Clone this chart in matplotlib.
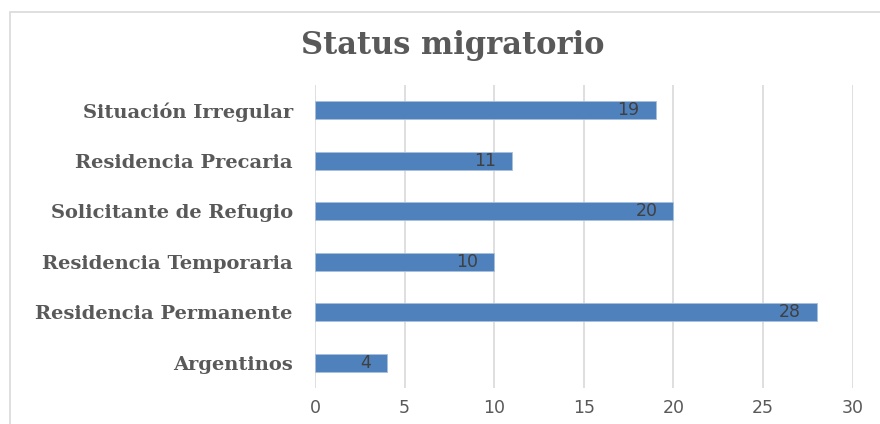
import matplotlib.pyplot as plt
from matplotlib.patches import Rectangle

# data (top to bottom as shown in the chart)
categories = ['Situación Irregular', 'Residencia Precaria', 'Solicitante de Refugio',
              'Residencia Temporaria', 'Residencia Permanente', 'Argentinos']
values = [19, 11, 20, 10, 28, 4]
xticks = [0, 5, 10, 15, 20, 25, 30]

bar_color = '#4f81bd'
grid_color = '#d9d9d9'

fig = plt.figure(figsize=(8.8, 4.24), dpi=100)
ax = fig.add_axes([0.358, 0.085, 0.611, 0.7145])

ypos = list(range(len(categories)))[::-1]
ax.barh(ypos, values, height=0.36, color=bar_color, edgecolor='#a7c0de', linewidth=0.6, zorder=3)

for y, v in zip(ypos, values):
    ax.text(v - 0.9, y, str(v), ha='right', va='center', fontsize=12.5,
            color='#404040', family='DejaVu Sans', zorder=4)

ax.set_xlim(0, 30)
ax.set_ylim(-0.5, 5.5)
ax.set_xticks(xticks)
ax.set_xticklabels([str(t) for t in xticks], fontsize=12.5, color='#595959')
ax.set_yticks(ypos)
ax.set_yticklabels(categories, fontsize=14, fontweight='bold', family='DejaVu Serif',
                   color='#595959')
ax.tick_params(axis='both', length=0)
ax.tick_params(axis='y', pad=16)
ax.tick_params(axis='x', pad=8)
ax.grid(axis='x', color=grid_color, linewidth=1.2, zorder=0)
for s in ax.spines.values():
    s.set_visible(False)

fig.text(0.514, 0.893, 'Status migratorio', ha='center', va='center', fontsize=22,
         fontweight='bold', family='DejaVu Serif', color='#595959')

# chart area border (cut off at right and bottom)
fig.patches.append(Rectangle((10 / 880, -0.1), 1.2, 1 - 12 / 424 + 0.1,
                             transform=fig.transFigure, fill=False,
                             edgecolor=grid_color, linewidth=1.2))

fig.savefig('out.png', dpi=100)
